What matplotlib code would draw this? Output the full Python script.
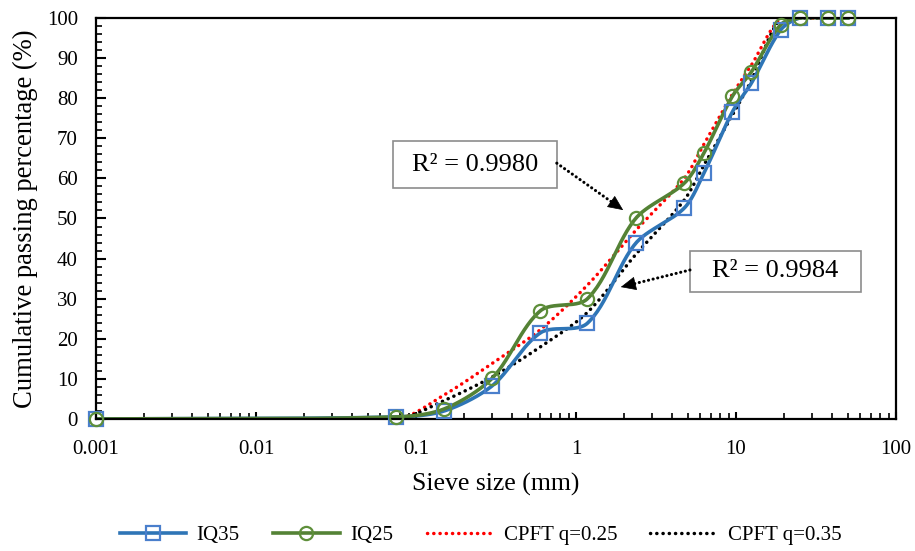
import matplotlib
matplotlib.use("Agg")
import matplotlib.pyplot as plt
from matplotlib.lines import Line2D
from matplotlib.patches import Rectangle
from matplotlib.ticker import MultipleLocator, LogLocator, NullFormatter, FixedLocator
import numpy as np

plt.rcParams['font.family'] = ['Liberation Serif', 'DejaVu Serif']

# Sieve sizes (mm) and cumulative passing (%)
sieve = [0.001, 0.075, 0.15, 0.3, 0.6, 1.18, 2.36, 4.75, 6.3, 9.5, 12.5, 19, 25, 37.5, 50]
iq35 = [0, 0.5, 2.0, 8.3, 21.5, 23.9, 43.8, 52.6, 61.3, 76.6, 83.8, 97.0, 100, 100, 100]
iq25 = [0, 0.5, 2.5, 10.2, 27.0, 30.0, 50.0, 58.8, 66.3, 80.5, 86.6, 98.3, 100, 100, 100]
cpft_025 = [0, 0, 6.0, 13.9, 22.3, 33.4, 47.0, 60.0, 68.5, 81.0, 88.3, 100, 100, 100, 100]
cpft_035 = [0, 0, 4.6, 10.5, 18.0, 26.6, 41.0, 54.6, 63.3, 75.8, 84.5, 100, 100, 100, 100]

r2_labels = ['R² = 0.9980', 'R² = 0.9984']

blue = '#2E75B6'
blue_m = '#4A7FCC'
green = '#548235'
green_m = '#5E8F3A'
dots = (0, (0.05, 1.75))


def smooth(xs, ys, n=30, k=0.9):
    # bezier smoothing in screen-like space (log x), similar to Excel's smoothed lines
    u = (np.log10(xs) + 3) / 5 * 800
    v = np.asarray(ys, float) / 100 * 401
    P = np.column_stack([u, v])
    m = len(P)
    d = np.zeros_like(P)
    for i in range(m):
        a = P[max(i - 1, 0)]
        b = P[min(i + 1, m - 1)]
        t = b - a
        nt = np.hypot(*t)
        d[i] = t / nt if nt > 0 else 0
    out = [P[0]]
    t = np.linspace(0, 1, n)[1:, None]
    for i in range(m - 1):
        L = np.hypot(*(P[i + 1] - P[i])) * k / 3
        c1 = P[i] + d[i] * L
        c2 = P[i + 1] - d[i + 1] * L
        seg = ((1 - t) ** 3) * P[i] + 3 * ((1 - t) ** 2) * t * c1 + 3 * (1 - t) * t ** 2 * c2 + t ** 3 * P[i + 1]
        out.extend(seg)
    out = np.array(out)
    return 10 ** (out[:, 0] / 800 * 5 - 3), out[:, 1] / 401 * 100


fig = plt.figure(figsize=(9.15, 5.51), dpi=100)
ax = fig.add_axes([0.1049, 0.2396, 0.8743, 0.7277])

sx, sy = smooth(sieve, cpft_025)
ax.plot(sx, sy, color='red', lw=2.5, linestyle=dots, dash_capstyle='round')
sx, sy = smooth(sieve, cpft_035)
ax.plot(sx, sy, color='black', lw=2.5, linestyle=dots, dash_capstyle='round')
sx, sy = smooth(sieve, iq35)
ax.plot(sx, sy, color=blue, lw=2.6)
sx, sy = smooth(sieve, iq25)
ax.plot(sx, sy, color=green, lw=2.6)

ax.plot(sieve, iq35, linestyle='none', marker='s', ms=9.5, mfc='none', mec=blue_m, mew=1.6, clip_on=False, zorder=5)
ax.plot(sieve, iq25, linestyle='none', marker='o', ms=9.5, mfc='none', mec=green_m, mew=1.6, clip_on=False, zorder=6)

ax.set_xscale('log')
ax.set_xlim(0.001, 100)
ax.set_ylim(0, 100)
ax.yaxis.set_major_locator(MultipleLocator(10))
ax.yaxis.set_minor_locator(MultipleLocator(2))
ax.xaxis.set_major_locator(FixedLocator([0.001, 0.01, 0.1, 1, 10, 100]))
ax.xaxis.set_minor_locator(LogLocator(base=10, subs=np.arange(2, 10)))
ax.xaxis.set_minor_formatter(NullFormatter())
ax.set_xticklabels(['0.001', '0.01', '0.1', '1', '10', '100'])

ax.tick_params(axis='both', which='major', direction='in', length=7, width=1.5, labelsize=15)
ax.tick_params(axis='both', which='minor', direction='in', length=4, width=1.2)
ax.tick_params(axis='x', which='both', pad=15)
ax.tick_params(axis='y', which='both', pad=13)
ax.tick_params(axis='x', which='major', length=5)
for s in ax.spines.values():
    s.set_linewidth(1.6)

ax.set_xlabel('Sieve size (mm)', fontsize=18.5, labelpad=10)
ax.set_ylabel('Cumulative passing percentage (%)', fontsize=19.2, labelpad=6)

# R² boxes and arrows
boxes = [(0.371, 0.576, 0.205, 0.117), (0.7425, 0.317, 0.214, 0.102)]
arrows = [((0.576, 0.638), (0.659, 0.521)), ((0.7425, 0.3716), (0.656, 0.329))]
for (x0, y0, w, h), lab in zip(boxes, r2_labels):
    ax.add_patch(Rectangle((x0, y0), w, h, transform=ax.transAxes, facecolor='white',
                           edgecolor='#8c8c8c', lw=1.2, zorder=7))
    ax.text(x0 + w / 2, y0 + h / 2, lab, transform=ax.transAxes, fontsize=19,
            ha='center', va='center', zorder=8)
for (p0, p1) in arrows:
    p0 = np.array(p0)
    p1 = np.array(p1)
    back = p1 - (p1 - p0) * 0.18
    ax.plot([p0[0], back[0]], [p0[1], back[1]], transform=ax.transAxes, color='black',
            lw=2.2, linestyle=(0, (0.05, 1.5)), dash_capstyle='round', zorder=7)
    ax.annotate('', xy=p1, xytext=back, xycoords='axes fraction', textcoords='axes fraction',
                arrowprops=dict(arrowstyle='-|>,head_length=1.0,head_width=0.45',
                                color='black', lw=0.5, shrinkA=0, shrinkB=0), zorder=8)

handles = [
    Line2D([], [], color=blue, lw=2.6, marker='s', ms=9.5, mfc='none', mec=blue_m, mew=1.6),
    Line2D([], [], color=green, lw=2.6, marker='o', ms=9.5, mfc='none', mec=green_m, mew=1.6),
    Line2D([], [], color='red', lw=2.5, linestyle=dots, dash_capstyle='round'),
    Line2D([], [], color='black', lw=2.5, linestyle=dots, dash_capstyle='round'),
]
fig.legend(handles, ['IQ35', 'IQ25', 'CPFT q=0.25', 'CPFT q=0.35'], loc='center',
           bbox_to_anchor=(0.525, 0.028), ncol=4, frameon=False, fontsize=15,
           handlelength=3.2, columnspacing=1.6, handletextpad=0.5)

fig.savefig('out.png', dpi=100)
